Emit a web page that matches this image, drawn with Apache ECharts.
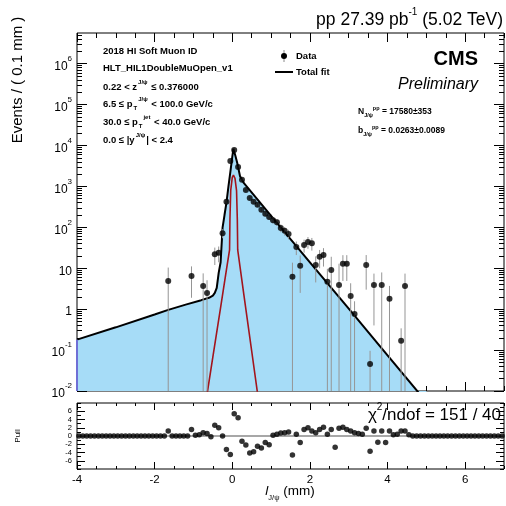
<!DOCTYPE html>
<html><head><meta charset="utf-8">
<script src="https://cdn.jsdelivr.net/npm/echarts@6/dist/echarts.min.js"></script>
<style>html,body{margin:0;padding:0;background:#fff}#c{width:506px;height:506px}</style>
</head><body><div id="c"></div>
<script>
// ---- data ----
const dataX = [-1.65,-1.05,-0.75,-0.65,-0.45,-0.35,-0.25,-0.15,-0.05,0.05,0.15,0.25,0.35,0.45,0.55,0.65,0.75,0.85,0.95,1.05,1.15,1.25,1.35,1.45,1.55,1.65,1.75,1.85,1.95,2.05,2.15,2.25,2.35,2.45,2.55,2.75,2.85,2.95,3.05,3.15,3.45,3.55,3.65,3.85,4.05,4.35,4.45];
const dataY = [4.9,6.5,3.7,2.5,22,24,72,420,4200,7800,3000,1450,820,520,420,355,270,215,180,150,134,97,82,69,6.2,33,11.5,37,44,41,12,19,21,4.7,9.1,3.9,12.9,12.9,2.1,0.76,12,0.046,3.9,3.9,1.8,0.17,3.7];
const dataErr = [5.5,4.6,3.8,2.6,10,10,18,44,140,190,118,82,61,49,44,40,35,31,29,26,25,21,19,18,7.5,12,9,13,14,14,7.5,9,10,5,10,9,8,8,2.2,0.8,9,0.05,3.5,4,1.9,0.17,3.7];

const fitX = [-4,-3,-2,-1.65,-1.2,-0.8,-0.6,-0.5,-0.45,-0.4,-0.35,-0.3,-0.25,-0.2,-0.15,-0.1,-0.05,0,0.03,0.08,0.13,0.2,0.3,1,2,3,4,5];
const fitY = [0.18,0.36,0.74,0.96,1.29,1.66,1.9,2.15,2.5,3.3,7.7,14,98,200,400,980,2240,5250,8300,5600,3700,1780,1200,190,14,1.03,0.074,0.0054];

const promptX = [-0.7,-0.64,-0.5,-0.3,-0.15,-0.07,-0.06,-0.04,0,0.03,0.07,0.11,0.13,0.14,0.3,0.5,0.65,0.7];
const promptY = [0.004,0.0095,0.068,1.1,9.2,28,158,794,1660,1900,1580,794,158,28,2.2,0.095,0.0089,0.004];

// pull per 0.1 mm bin, from -4 to 7 (110 bins)
const pullValues = [0,0,0,0,0,0,0,0,0,0, 0,0,0,0,0,0,0,0,0,0, 0,0,0,1.2,0,0,0,0,0,1.6, 0.2,0.3,0.8,0.6,-0.2,2.6,2.0,0.0,-3.3,-4.5, 5.4,4.4,-1.3,-2.2,-4.1,-3.8,-2.5,-2.9,-1.6,-2.1, 0.2,0.4,0.7,0.8,1.0,-4.6,0.4,-1.6,1.6,2.0, 1.2,0.8,1.6,2.1,0.4,1.6,-2.7,1.9,2.1,1.6, 1.2,0.8,0.6,0.4,1.9,-3.7,1.2,-1.5,1.2,-1.6, 1.2,0.3,0.4,1.2,1.2,0.3,0,0,0,0, 0,0,0,0,0,0,0,0,0,0, 0,0,0,0,0,0,0,0,0,0];
const binLow = -4, binWidth = 0.1;

const xTickLabels = [-4,-2,0,2,4,6];
const yDecades = [-2,-1,0,1,2,3,4,5,6];
const pullTickLabels = [-6,-4,-2,0,2,4,6];
const zeroLine = [[-4,0],[7,0]];

// ---- helpers ----
const FF = '"Liberation Sans", Arial, Helvetica, sans-serif';
const lg = v => Math.log10(v);
const XMIN = -4, XMAX = 7, YMIN = -2, YMAX = 6.75, PMIN = -8, PMAX = 8;

const xMinor = []; for (let v = XMIN; v <= XMAX + 1e-9; v += 0.5) xMinor.push(+v.toFixed(2));
const yMinor = []; for (let n = -2; n <= 6; n++) for (let m = 2; m <= 9; m++) { const t = n + Math.log10(m); if (t < YMAX) yMinor.push(t); }
const pMinor = []; for (let v = PMIN; v <= PMAX; v += 1) pMinor.push(v);

function xAx(grid, pos, ticks, len, label) {
  return {type:'value', gridIndex:grid, position:pos, min:XMIN, max:XMAX,
    axisLine:{show:false, onZero:false}, splitLine:{show:false},
    axisTick:{show:true, inside:true, length:len, customValues:ticks, lineStyle:{color:'#000', width:1}},
    axisLabel: label ? label : {show:false}};
}
function yAx(grid, pos, min, max, ticks, len, label) {
  return {type:'value', gridIndex:grid, position:pos, min:min, max:max,
    axisLine:{show:false, onZero:false}, splitLine:{show:false},
    axisTick:{show:true, inside:true, length:len, customValues:ticks, lineStyle:{color:'#000', width:1}},
    axisLabel: label ? label : {show:false}};
}

const yLabel = {customValues: yDecades, margin: 5,
  formatter: v => v === 0 ? '{b|1}' : (v === 1 ? '{b|10}' : '{b|10}{s|' + v + '}'),
  rich: {b:{fontSize:12, fontFamily:FF, color:'#000', lineHeight:18, verticalAlign:'bottom'},
         s:{fontSize:8, fontFamily:FF, color:'#000', lineHeight:10, verticalAlign:'top'}}};
const pLabel = {customValues: pullTickLabels, margin: 5, fontSize: 7.5, fontFamily: FF, color:'#000'};
const xLabel = {customValues: xTickLabels, margin: 5, fontSize: 11.5, fontFamily: FF, color:'#000'};

const xAxes = [
  xAx(0,'bottom',xTickLabels,9), xAx(0,'bottom',xMinor,5), xAx(0,'top',xTickLabels,9), xAx(0,'top',xMinor,5),
  xAx(1,'bottom',xTickLabels,7,xLabel), xAx(1,'bottom',xMinor,3), xAx(1,'top',xTickLabels,7), xAx(1,'top',xMinor,3)
];
const yAxes = [
  yAx(0,'left',YMIN,YMAX,yDecades,10,yLabel), yAx(0,'left',YMIN,YMAX,yMinor,5),
  yAx(0,'right',YMIN,YMAX,yDecades,10), yAx(0,'right',YMIN,YMAX,yMinor,5),
  yAx(1,'left',PMIN,PMAX,pullTickLabels,8,pLabel), yAx(1,'left',PMIN,PMAX,pMinor,4),
  yAx(1,'right',PMIN,PMAX,pullTickLabels,8), yAx(1,'right',PMIN,PMAX,pMinor,4)
];

const errData = dataX.map((x,i) => {
  const lo = dataY[i] - dataErr[i];
  return [x, lo > 0 ? lg(lo) : YMIN - 1, lg(dataY[i] + dataErr[i])];
});

const series = [
  {type:'line', name:'Total fit', xAxisIndex:0, yAxisIndex:0, data: fitX.map((x,i)=>[x, lg(fitY[i])]),
   showSymbol:false, symbol:'none', lineStyle:{color:'#000', width:2}, areaStyle:{color:'#a6dcf7', opacity:1, origin:'start'}, z:2, clip:true},
  {type:'line', name:'fill edge', xAxisIndex:0, yAxisIndex:0, data: [[fitX[0], YMIN], [fitX[0], lg(fitY[0])]],
   showSymbol:false, symbol:'none', lineStyle:{color:'#6f6fd6', width:2}, z:2, clip:false},
  {type:'line', name:'Prompt', xAxisIndex:0, yAxisIndex:0, data: promptX.map((x,i)=>[x, lg(promptY[i])]),
   showSymbol:false, symbol:'none', lineStyle:{color:'#a3141c', width:1.6}, z:3, clip:true},
  {type:'custom', name:'errors', xAxisIndex:0, yAxisIndex:0, data: errData, clip:true, z:4,
   encode:{x:0, y:[1,2]},
   renderItem: (params, api) => {
     const p1 = api.coord([api.value(0), api.value(1)]);
     const p2 = api.coord([api.value(0), api.value(2)]);
     return {type:'line', shape:{x1:p1[0], y1:p1[1], x2:p2[0], y2:p2[1]}, style:{stroke:'#959595', lineWidth:1}};
   }},
  {type:'scatter', name:'Data', xAxisIndex:0, yAxisIndex:0, data: dataX.map((x,i)=>[x, lg(dataY[i])]),
   symbol:'circle', symbolSize:6, itemStyle:{color:'#000'}, z:5, clip:true},
  {type:'line', xAxisIndex:4, yAxisIndex:4, data: zeroLine, showSymbol:false, symbol:'none', lineStyle:{color:'#8a8a8a', width:1.3}, z:2},
  {type:'scatter', xAxisIndex:4, yAxisIndex:4, data: pullValues.map((p,i)=>[binLow + binWidth*(i+0.5), p]),
   symbol:'circle', symbolSize:5.5, itemStyle:{color:'#000'}, z:5, clip:true}
];

const T = (x, y, text, o, rot) => Object.assign({type:'text', x:x, y:y, silent:true, rotation: rot || 0,
  style: Object.assign({text:text, fill:'#000', fontFamily:FF, fontSize:9, fontWeight:'bold', align:'left', verticalAlign:'middle'}, o || {})});

const infoRich = {
  n:{fontSize:9.5, fontWeight:'bold', fontFamily:FF, lineHeight:15, verticalAlign:'middle'},
  u:{fontSize:6, fontWeight:'bold', fontFamily:FF, lineHeight:6, verticalAlign:'top', padding:[0,1,0,1]},
  d:{fontSize:6, fontWeight:'bold', fontFamily:FF, lineHeight:6, verticalAlign:'bottom', padding:[0,0,0,1]}
};
const smallRich = {
  n:{fontSize:8.5, fontFamily:FF, fontWeight:'bold', lineHeight:13, verticalAlign:'middle'},
  u:{fontSize:5.5, fontFamily:FF, fontWeight:'bold', lineHeight:5, verticalAlign:'top'},
  d:{fontSize:5.5, fontFamily:FF, fontWeight:'bold', lineHeight:5, verticalAlign:'bottom'}
};

const graphic = [
  T(503, 18, '{a|pp 27.39 pb}{s|-1}{a| (5.02 TeV)}', {align:'right', fontWeight:'normal',
    rich:{a:{fontSize:17.5, fontFamily:FF, lineHeight:22, verticalAlign:'bottom'}, s:{fontSize:10, fontFamily:FF, lineHeight:11, verticalAlign:'top'}}}),
  T(103, 51, '{n|2018 HI Soft Muon ID}', {rich:infoRich}),
  T(103, 68, '{n|HLT_HIL1DoubleMuOpen_v1}', {rich:infoRich}),
  T(103, 87, '{n|0.22 < z}{u|J/ψ}{n| ≤ 0.376000}', {rich:infoRich}),
  T(103, 104, '{n|6.5 ≤ p}{d|T}{u|J/ψ}{n| < 100.0 GeV/c}', {rich:infoRich}),
  T(103, 122, '{n|30.0 ≤ p}{d|T}{u|jet}{n| < 40.0 GeV/c}', {rich:infoRich}),
  T(103, 140, '{n|0.0 ≤ |y}{u|J/ψ}{n|| < 2.4}', {rich:infoRich}),
  // legend
  {type:'line', silent:true, shape:{x1:284, y1:50, x2:284, y2:62}, style:{stroke:'#8a8a8a', lineWidth:1}},
  {type:'circle', silent:true, shape:{cx:284, cy:56, r:3}, style:{fill:'#000'}},
  T(296, 56, 'Data', {fontSize:9.5}),
  {type:'line', silent:true, shape:{x1:275, y1:72, x2:293, y2:72}, style:{stroke:'#000', lineWidth:2}},
  T(296, 72, 'Total fit', {fontSize:9.5}),
  // CMS
  T(478, 59, 'CMS', {align:'right', fontSize:20}),
  T(478, 85, 'Preliminary', {align:'right', fontSize:16, fontWeight:'normal', fontStyle:'italic'}),
  T(358, 112, '{n|N}{d|J/ψ}{u|pp}{n| = 17580±353}', {rich:smallRich}),
  T(358, 131, '{n|b}{d|J/ψ}{u|pp}{n| = 0.0263±0.0089}', {rich:smallRich}),
  // chi2
  T(501, 413, '{a|χ}{s|2}{a|/ndof = 151 / 40}', {align:'right', fontWeight:'normal',
    rich:{a:{fontSize:17, fontFamily:FF, lineHeight:21, verticalAlign:'bottom'}, s:{fontSize:10, fontFamily:FF, lineHeight:10, verticalAlign:'top'}}}),
  // axis titles
  T(18, 80, 'Events / ( 0.1 mm )', {align:'center', fontSize:15, fontWeight:'normal'}, Math.PI/2),
  T(18, 436, 'Pull', {align:'center', fontSize:8, fontWeight:'normal'}, Math.PI/2),
  T(290, 493, '{i|l}{d|J/ψ}{a| (mm)}', {align:'center', fontWeight:'normal',
    rich:{i:{fontSize:13.5, fontFamily:FF, fontStyle:'italic', lineHeight:17, verticalAlign:'top'},
          a:{fontSize:13.5, fontFamily:FF, lineHeight:17, verticalAlign:'top'},
          d:{fontSize:7.5, fontFamily:FF, lineHeight:8, verticalAlign:'bottom'}}})
];

const chart = echarts.init(document.getElementById('c'), null, {renderer:'canvas', width:506, height:506});
chart.setOption({
  animation:false,
  backgroundColor:'#fff',
  grid:[
    {left:77, top:33, width:427, height:358, show:true, borderColor:'#000', borderWidth:1, backgroundColor:'transparent', containLabel:false},
    {left:77, top:403, width:427, height:66, show:true, borderColor:'#000', borderWidth:1, backgroundColor:'transparent', containLabel:false}
  ],
  xAxis: xAxes,
  yAxis: yAxes,
  series: series,
  graphic: graphic
});
</script>
</body></html>
